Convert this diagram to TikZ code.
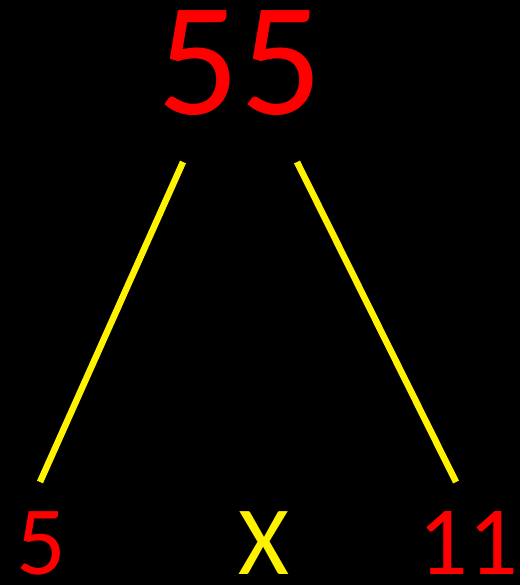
\documentclass[tikz,border=0pt]{standalone}
\usepackage{fontspec}
\setmainfont{Carlito}
\begin{document}
\begin{tikzpicture}[x=1pt,y=-1pt,
  bigred/.style={text=red,inner sep=0pt,anchor=base,text height=103pt,text depth=0pt,font=\fontsize{162}{162}\selectfont},
  smallred/.style={text=red,inner sep=0pt,anchor=base,text height=62pt,text depth=0pt,font=\fontsize{98}{98}\selectfont},
  smallyellow/.style={text=yellow,inner sep=0pt,anchor=base,text height=62pt,text depth=0pt,font=\fontsize{98}{98}\selectfont},
  branch/.style={draw=yellow,line width=6.5pt}]
\fill[black] (0,0) rectangle (520,585);
\useasboundingbox (0,0) rectangle (520,585);
\node[bigred] (top) at (240,115) {55};
\node[smallred] (left) at (41,574) {5};
\node[smallyellow] (times) at (263.5,574) {X};
\node[smallred] (right) at (468,574) {11};
\coordinate (tl) at (183,162);
\coordinate (tr) at (297,162);
\coordinate (bl) at (40,482);
\coordinate (br) at (456,482);
\draw[branch] (tl) -- (bl);
\draw[branch] (tr) -- (br);
\end{tikzpicture}
\end{document}
